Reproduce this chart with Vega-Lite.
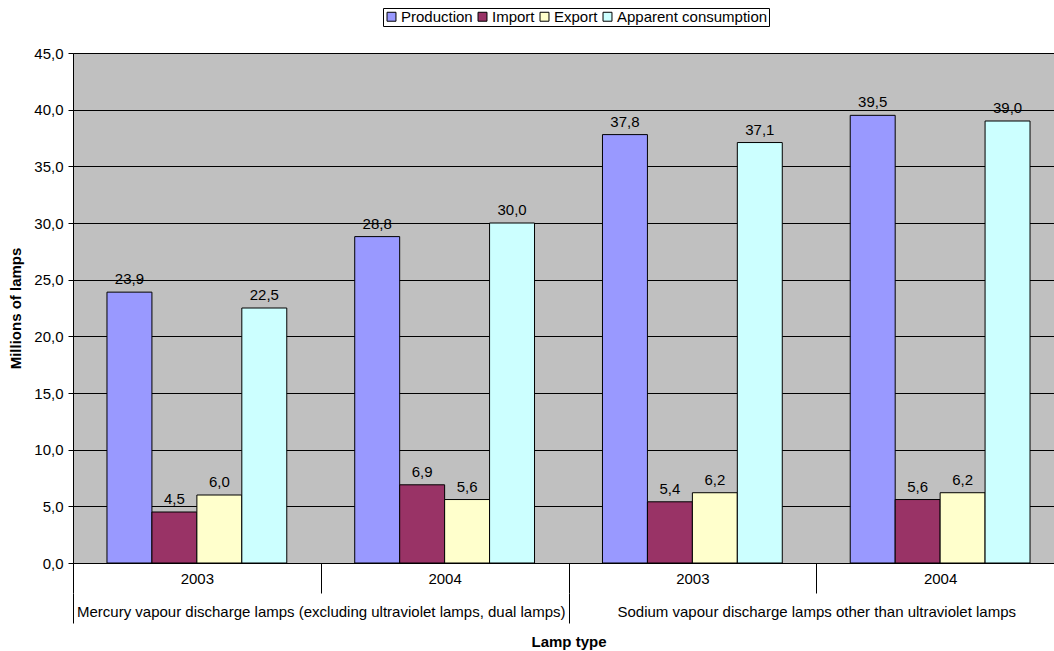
{
  "$schema": "https://vega.github.io/schema/vega-lite/v6.json",
  "autosize": {"type": "none"},
  "padding": {"left": 73, "top": 53, "right": 0, "bottom": 88},
  "width": 991,
  "height": 510,
  "data": {
    "values": [
      {"lamp": "Mercury vapour discharge lamps (excluding ultraviolet lamps, dual lamps)", "group": "M2003", "series": "Production", "value": 23.9},
      {"lamp": "Mercury vapour discharge lamps (excluding ultraviolet lamps, dual lamps)", "group": "M2003", "series": "Import", "value": 4.5},
      {"lamp": "Mercury vapour discharge lamps (excluding ultraviolet lamps, dual lamps)", "group": "M2003", "series": "Export", "value": 6.0},
      {"lamp": "Mercury vapour discharge lamps (excluding ultraviolet lamps, dual lamps)", "group": "M2003", "series": "Apparent consumption", "value": 22.5},
      {"lamp": "Mercury vapour discharge lamps (excluding ultraviolet lamps, dual lamps)", "group": "M2004", "series": "Production", "value": 28.8},
      {"lamp": "Mercury vapour discharge lamps (excluding ultraviolet lamps, dual lamps)", "group": "M2004", "series": "Import", "value": 6.9},
      {"lamp": "Mercury vapour discharge lamps (excluding ultraviolet lamps, dual lamps)", "group": "M2004", "series": "Export", "value": 5.6},
      {"lamp": "Mercury vapour discharge lamps (excluding ultraviolet lamps, dual lamps)", "group": "M2004", "series": "Apparent consumption", "value": 30.0},
      {"lamp": "Sodium vapour discharge lamps other than ultraviolet lamps", "group": "S2003", "series": "Production", "value": 37.8},
      {"lamp": "Sodium vapour discharge lamps other than ultraviolet lamps", "group": "S2003", "series": "Import", "value": 5.4},
      {"lamp": "Sodium vapour discharge lamps other than ultraviolet lamps", "group": "S2003", "series": "Export", "value": 6.2},
      {"lamp": "Sodium vapour discharge lamps other than ultraviolet lamps", "group": "S2003", "series": "Apparent consumption", "value": 37.1},
      {"lamp": "Sodium vapour discharge lamps other than ultraviolet lamps", "group": "S2004", "series": "Production", "value": 39.5},
      {"lamp": "Sodium vapour discharge lamps other than ultraviolet lamps", "group": "S2004", "series": "Import", "value": 5.6},
      {"lamp": "Sodium vapour discharge lamps other than ultraviolet lamps", "group": "S2004", "series": "Export", "value": 6.2},
      {"lamp": "Sodium vapour discharge lamps other than ultraviolet lamps", "group": "S2004", "series": "Apparent consumption", "value": 39.0}
    ]
  },
  "layer": [
    {
      "layer": [
        {
          "mark": {"type": "bar", "stroke": "black", "strokeWidth": 1},
          "encoding": {
            "x": {
              "field": "group", "type": "nominal",
              "scale": {"paddingInner": 0, "paddingOuter": 0},
              "axis": {
                "orient": "bottom",
                "title": null,
                "labelAngle": 0,
                "labelExpr": "slice(datum.label, 1)",
                "tickBand": "extent",
                "tickSize": 30,
                "labelPadding": -22,
                "labelBaseline": "top"
              }
            },
            "xOffset": {
              "field": "series", "type": "nominal",
              "scale": {"domain": ["Production", "Import", "Export", "Apparent consumption"], "paddingInner": 0, "paddingOuter": 0.756}
            },
            "y": {
              "field": "value", "type": "quantitative",
              "scale": {"domain": [0, 45], "nice": false},
              "axis": {
                "title": "Millions of lamps",
                "values": [0, 5, 10, 15, 20, 25, 30, 35, 40, 45],
                "format": ".1f",
                "grid": true,
                "tickSize": 5,
                "labelPadding": 5,
                "titlePadding": 10
              }
            },
            "color": {
              "field": "series", "type": "nominal",
              "scale": {
                "domain": ["Production", "Import", "Export", "Apparent consumption"],
                "range": ["#9999FF", "#993366", "#FFFFCC", "#CCFFFF"]
              },
              "legend": {
                "title": null,
                "orient": "none",
                "legendX": 310,
                "legendY": -45,
                "direction": "horizontal",
                "columns": 4,
                "symbolType": "square",
                "symbolSize": 80,
                "symbolStrokeColor": "black",
                "symbolStrokeWidth": 1,
                "symbolOpacity": 1,
                "labelFontSize": 15,
                "labelOffset": 2,
                "columnPadding": 2,
                "strokeColor": "black",
                "padding": 1,
                "fillColor": "white"
              }
            }
          }
        },
        {
          "mark": {"type": "text", "baseline": "bottom", "dy": -5, "fontSize": 15, "color": "black"},
          "encoding": {
            "x": {"field": "group", "type": "nominal"},
            "xOffset": {"field": "series", "type": "nominal"},
            "y": {"field": "value", "type": "quantitative"},
            "text": {"field": "value", "type": "quantitative", "format": ".1f"}
          }
        }
      ]
    },
    {
      "mark": {"type": "rule", "opacity": 0},
      "encoding": {
        "x": {
          "field": "lamp", "type": "nominal",
          "scale": {"paddingInner": 0, "paddingOuter": 0},
          "axis": {
            "orient": "bottom",
            "title": "Lamp type",
            "labelAngle": 0,
            "domain": false,
            "offset": 30,
            "tickBand": "extent",
            "tickSize": 30,
            "labelPadding": -19,
            "labelBaseline": "top",
            "labelLimit": 600,
            "titlePadding": 11
          }
        }
      }
    }
  ],
  "resolve": {"scale": {"x": "independent"}},
  "config": {
    "font": "Liberation Sans",
    "locale": {"number": {"decimal": ",", "thousands": ".", "grouping": [3], "currency": ["", " €"]}},
    "view": {"fill": "#C0C0C0", "stroke": "#808080"},
    "axis": {
      "domainColor": "black",
      "tickColor": "black",
      "gridColor": "black",
      "gridOpacity": 1,
      "labelColor": "black",
      "labelFont": "Liberation Sans",
      "labelFontSize": 15,
      "titleFont": "Liberation Sans",
      "titleFontSize": 15,
      "titleFontWeight": "bold",
      "titleColor": "black"
    },
    "legend": {"labelFont": "Liberation Sans", "labelColor": "black"}
  }
}
